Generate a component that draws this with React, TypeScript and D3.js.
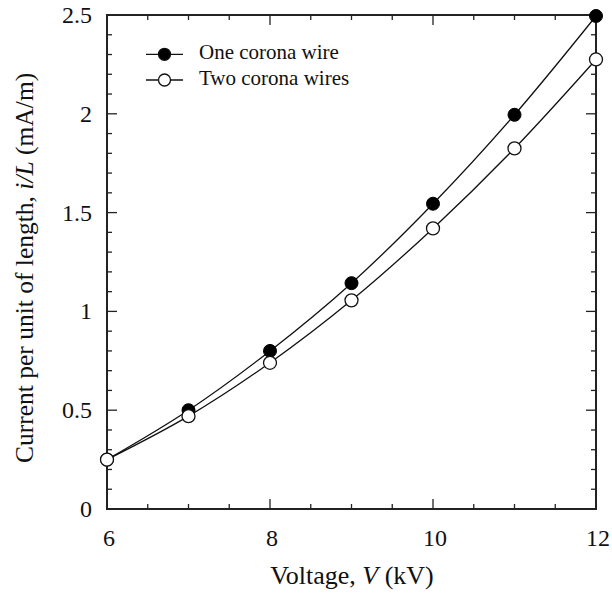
import React from "react";
import * as d3 from "d3";

const voltage = [6, 7, 8, 9, 10, 11, 12];
const oneWire = [0.25, 0.5, 0.8, 1.143, 1.545, 1.995, 2.495];
const twoWires = [0.25, 0.47, 0.74, 1.056, 1.42, 1.825, 2.275];
const xTicks = [6, 8, 10, 12];
const yTicks = [0, 0.5, 1, 1.5, 2, 2.5];
const yTickLabels = ["0", "0.5", "1", "1.5", "2", "2.5"];
const seriesNames = ["One corona wire", "Two corona wires"];

const W = 612, H = 595;
const M = { left: 107, right: 596, top: 15, bottom: 509 };
const FONT = "'Liberation Serif', 'DejaVu Serif', serif";

export default function App() {
  const x = d3.scaleLinear().domain([6, 12]).range([M.left, M.right]);
  const y = d3.scaleLinear().domain([0, 2.5]).range([M.bottom, M.top]);
  const line = d3
    .line<[number, number]>()
    .x((d) => x(d[0]))
    .y((d) => y(d[1]))
    .curve(d3.curveCatmullRom.alpha(0.5));

  const s1 = voltage.map((v, i) => [v, oneWire[i]] as [number, number]);
  const s2 = voltage.map((v, i) => [v, twoWires[i]] as [number, number]);

  const xMinor = d3.range(6, 12.001, 0.5);
  const yMinor = d3.range(0, 2.5001, 0.1);
  const isMajorX = (v: number) => xTicks.some((t) => Math.abs(t - v) < 1e-6);
  const isMajorY = (v: number) => yTicks.some((t) => Math.abs(t - v) < 1e-6);
  const ts = { fontFamily: FONT };

  return (
    <svg
      width={W}
      height={H}
      style={{ position: "absolute", left: 0, top: 0, background: "#fff", fontFamily: FONT }}
    >
      <rect x={0} y={0} width={W} height={H} fill="#fff" />
      <g stroke="#222" strokeWidth={1.3}>
        {xMinor.map((v) => {
          const len = isMajorX(v) ? 10 : 5;
          return (
            <g key={"xt" + v}>
              <line x1={x(v)} x2={x(v)} y1={M.bottom} y2={M.bottom - len} />
              <line x1={x(v)} x2={x(v)} y1={M.top} y2={M.top + len} />
            </g>
          );
        })}
        {yMinor.map((v) => {
          const len = isMajorY(v) ? 10 : 5;
          return (
            <g key={"yt" + v.toFixed(2)}>
              <line x1={M.left} x2={M.left + len} y1={y(v)} y2={y(v)} />
              <line x1={M.right} x2={M.right - len} y1={y(v)} y2={y(v)} />
            </g>
          );
        })}
      </g>
      <rect
        x={M.left}
        y={M.top}
        width={M.right - M.left}
        height={M.bottom - M.top}
        fill="none"
        stroke="#222"
        strokeWidth={2}
      />
      {xTicks.map((t) => (
        <text key={"xl" + t} x={x(t) + 2} y={546} textAnchor="middle" fontSize={24} fill="#111" style={ts}>
          {t}
        </text>
      ))}
      {yTicks.map((t, i) => (
        <text key={"yl" + t} x={92} y={y(t) + 8} textAnchor="end" fontSize={24} fill="#111" style={ts}>
          {yTickLabels[i]}
        </text>
      ))}
      <text x={352} y={584} textAnchor="middle" fontSize={26} fill="#111" style={ts}>
        Voltage, <tspan fontStyle="italic">V</tspan> (kV)
      </text>
      <text
        transform={`translate(33, 463) rotate(-90)`}
        textAnchor="start"
        fontSize={25.5}
        fill="#111"
        style={ts}
      >
        Current per unit of length, <tspan fontStyle="italic">i/L</tspan> (mA/m)
      </text>
      <path d={line(s2) || ""} fill="none" stroke="#111" strokeWidth={1.3} />
      <path d={line(s1) || ""} fill="none" stroke="#111" strokeWidth={1.3} />
      {s1.map((d, i) => (
        <circle key={"c1" + i} cx={x(d[0])} cy={y(d[1])} r={6.5} fill="#000" stroke="#000" strokeWidth={1} />
      ))}
      {s2.map((d, i) => (
        <circle key={"c2" + i} cx={x(d[0])} cy={y(d[1])} r={6.5} fill="#fff" stroke="#111" strokeWidth={1.3} />
      ))}
      {seriesNames.map((name, i) => {
        const ly = 54.3 + i * 25.7;
        return (
          <g key={"lg" + i}>
            <line x1={146} x2={183} y1={ly} y2={ly} stroke="#111" strokeWidth={1.3} />
            <circle
              cx={164.5}
              cy={ly}
              r={6}
              fill={i === 0 ? "#000" : "#fff"}
              stroke="#111"
              strokeWidth={1.3}
            />
            <text x={199} y={ly + 5} fontSize={21} fill="#111" style={ts}>
              {name}
            </text>
          </g>
        );
      })}
    </svg>
  );
}
